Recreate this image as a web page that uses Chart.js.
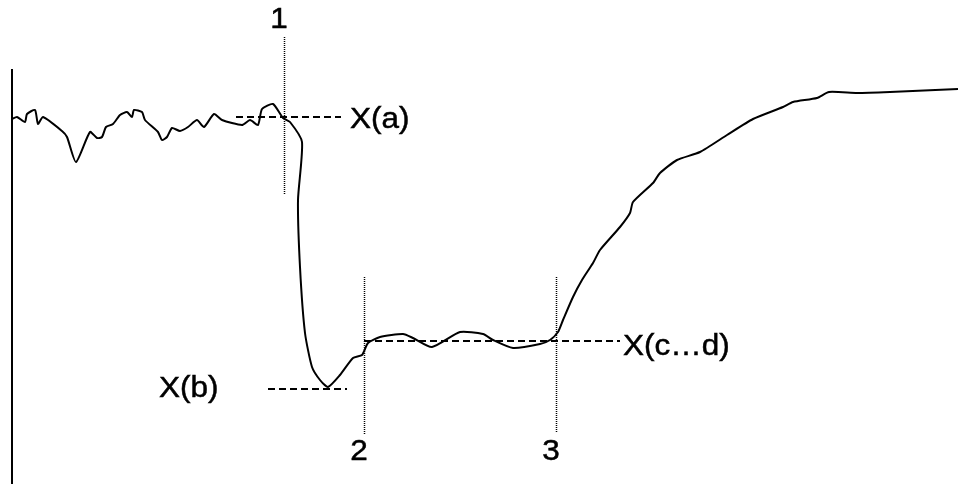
<!DOCTYPE html>
<html>
<head>
<meta charset="utf-8">
<script src="https://cdn.jsdelivr.net/npm/chart.js@4/dist/chart.umd.min.js"></script>
<style>
  html, body { margin: 0; padding: 0; background: #fff; }
  #wrap { width: 958px; height: 484px; position: relative; }
</style>
</head>
<body>
<div id="wrap"><canvas id="c" width="958" height="484"></canvas></div>
<script>
// ---- data (time units, signal units) ----
const times = [0,5,13,15,23,26,31,50,55,64,78,85,90,94,101,108,115,120,122,130,
  133,146,150,155,160,168,176,185,192,202,210,230,238,246,250,261,271,278,290,286,
  288,293,300,308,316,328,341,350,356,368,391,401,420,448,471,481,501,528,538,546,
  551,561,570,581,588,608,618,621,641,648,665,688,715,741,771,781,805,817,845,878,946];
const signal = [365,367,362,370,374,360,367,353,347,322,352,346,347,357,360,369,372,367,374,372,
  364,352,344,347,356,353,357,364,357,370,364,359,364,359,375,380,366,362,342,284,
  217,151,117,104,97,109,126,129,141,147,150,146,137,152,150,144,136,140,144,152,
  164,187,204,221,234,257,271,282,301,311,324,332,349,365,377,382,386,392,391,392,395];
const markerTimes = [272, 352, 544];
const markerLabels = ['1', '2', '3'];
const levelNames = ['X(a)', 'X(b)', 'X(c…d)'];
const levelValues = [367, 95, 143];

const points = times.map((t, i) => ({ x: t, y: signal[i] }));

// geometry of annotation marks (in data units)
const markerSpans = [[289, 447], [49, 207], [51, 207]];
const markerLabelV = [456, 24, 24];
const levelSpans = [[224, 329], [256, 335], [352, 608]];
const levelTextPos = [[338, 356], [147, 87], [611, 129]];
const axisTop = 415;

const annotate = {
  id: 'annotate',
  afterDatasetsDraw(chart) {
    const ctx = chart.ctx, xs = chart.scales.x, ys = chart.scales.y;
    ctx.save();
    // axis line
    ctx.strokeStyle = '#000';
    ctx.lineWidth = 2;
    ctx.setLineDash([]);
    ctx.beginPath();
    ctx.moveTo(xs.getPixelForValue(0), ys.getPixelForValue(axisTop));
    ctx.lineTo(xs.getPixelForValue(0), ys.getPixelForValue(0));
    ctx.stroke();
    // dotted vertical markers
    ctx.lineWidth = 1.5;
    ctx.setLineDash([1, 1]);
    markerTimes.forEach((t, i) => {
      const x = Math.round(xs.getPixelForValue(t)) + 0.5;
      ctx.beginPath();
      ctx.moveTo(x, Math.round(ys.getPixelForValue(markerSpans[i][1])));
      ctx.lineTo(x, Math.round(ys.getPixelForValue(markerSpans[i][0])));
      ctx.stroke();
    });
    // dashed horizontal levels
    ctx.lineWidth = 2;
    ctx.setLineDash([7, 4]);
    levelValues.forEach((v, i) => {
      const y = ys.getPixelForValue(v);
      ctx.beginPath();
      ctx.moveTo(xs.getPixelForValue(levelSpans[i][0]), y);
      ctx.lineTo(xs.getPixelForValue(levelSpans[i][1]), y);
      ctx.stroke();
    });
    ctx.setLineDash([]);
    // texts
    const sx = 1.05;
    ctx.fillStyle = '#000';
    ctx.strokeStyle = '#000';
    ctx.lineWidth = 0.5;
    ctx.font = '30px "Liberation Sans", Arial, sans-serif';
    ctx.textBaseline = 'alphabetic';
    const put = (txt, x, y, align) => {
      ctx.save();
      ctx.translate(x, y);
      ctx.scale(sx, 1);
      ctx.textAlign = align;
      ctx.fillText(txt, 0, 0);
      ctx.strokeText(txt, 0, 0);
      ctx.restore();
    };
    markerTimes.forEach((t, i) => {
      put(markerLabels[i], xs.getPixelForValue(t) - 5, ys.getPixelForValue(markerLabelV[i]), 'center');
    });
    levelNames.forEach((name, i) => {
      put(name, xs.getPixelForValue(levelTextPos[i][0]), ys.getPixelForValue(levelTextPos[i][1]), 'left');
    });
    ctx.restore();
  }
};

new Chart(document.getElementById('c'), {
  type: 'line',
  data: {
    datasets: [{
      data: points,
      borderColor: '#000',
      borderWidth: 2,
      pointRadius: 0,
      tension: 0.2,
      fill: false
    }]
  },
  options: {
    responsive: false,
    animation: false,
    layout: { padding: { left: 12, right: 0, top: 0, bottom: 0 } },
    plugins: { legend: { display: false }, tooltip: { enabled: false } },
    scales: {
      x: { type: 'linear', min: 0, max: 946, display: false },
      y: { min: 0, max: 484, display: false }
    }
  },
  plugins: [annotate]
});
</script>
</body>
</html>
